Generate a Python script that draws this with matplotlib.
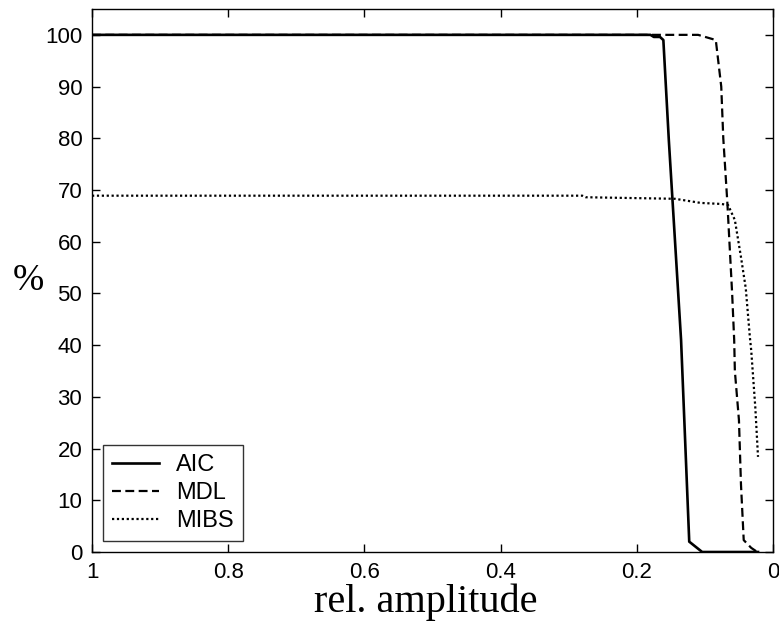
import matplotlib
matplotlib.use('Agg')
import matplotlib.pyplot as plt

# AIC
aic_x = [1.0, 0.40, 0.18, 0.175, 0.166, 0.161, 0.153, 0.135, 0.123, 0.104, 0.06, 0.022]
aic_y = [100, 100, 100, 99.6, 99.6, 99, 79.7, 41, 2, 0, 0, 0]
# MDL
mdl_x = [1.0, 0.40, 0.11, 0.084, 0.076, 0.073, 0.067, 0.06, 0.057, 0.056, 0.050, 0.047, 0.043, 0.032, 0.023]
mdl_y = [100, 100, 100, 99, 90, 80, 67.5, 50, 41, 35, 25.5, 13, 2.3, 0.8, 0]
# MIBS
mibs_x = [1.0, 0.28, 0.275, 0.144, 0.125, 0.106, 0.076, 0.066, 0.056, 0.047, 0.040, 0.034, 0.032, 0.026, 0.022]
mibs_y = [68.9, 68.9, 68.6, 68.3, 67.9, 67.5, 67.3, 67.1, 64.2, 57, 51, 41.6, 39, 28, 18.4]

xticks = [1, 0.8, 0.6, 0.4, 0.2, 0]
xticklabels = ['1', '0.8', '0.6', '0.4', '0.2', '0']
yticks = [0, 10, 20, 30, 40, 50, 60, 70, 80, 90, 100]

plt.rcParams['font.family'] = ['Liberation Sans', 'DejaVu Sans']

fig = plt.figure(figsize=(7.79, 6.21), dpi=100)
ax = fig.add_axes([92 / 779, 69 / 621, 681 / 779, 543 / 621])

ax.plot(aic_x, aic_y, color='black', linewidth=1.9, linestyle='-', label='AIC')
ax.plot(mdl_x, mdl_y, color='black', linewidth=1.6, linestyle=(0, (4, 2)), label='MDL')
ax.plot(mibs_x, mibs_y, color='black', linewidth=1.6, linestyle=(0, (1, 1.2)), label='MIBS')

ax.set_xlim(1, 0)
ax.set_ylim(0, 105)
ax.set_xticks(xticks)
ax.set_xticklabels(xticklabels)
ax.set_yticks(yticks)
ax.tick_params(direction='in', length=6, width=1, labelsize=16,
               top=True, right=True, pad=7)
for s in ax.spines.values():
    s.set_linewidth(1)

ax.set_xlabel('rel. amplitude', family='Liberation Serif', fontsize=29, labelpad=-2)
ax.xaxis.set_label_coords(0.49, -0.058, transform=ax.transAxes)
ax.xaxis.label.set_va('top')
ax.set_ylabel('%', family='Liberation Serif', fontsize=27, rotation=0, labelpad=12,
              va='center')

leg = ax.legend(loc='lower left', fontsize=17, frameon=True, fancybox=False,
                edgecolor='black', handlelength=2.0, handletextpad=0.7,
                borderaxespad=0.45, borderpad=0.4, labelspacing=0.25)
leg.get_frame().set_linewidth(1)

fig.savefig('out.png', dpi=100)
